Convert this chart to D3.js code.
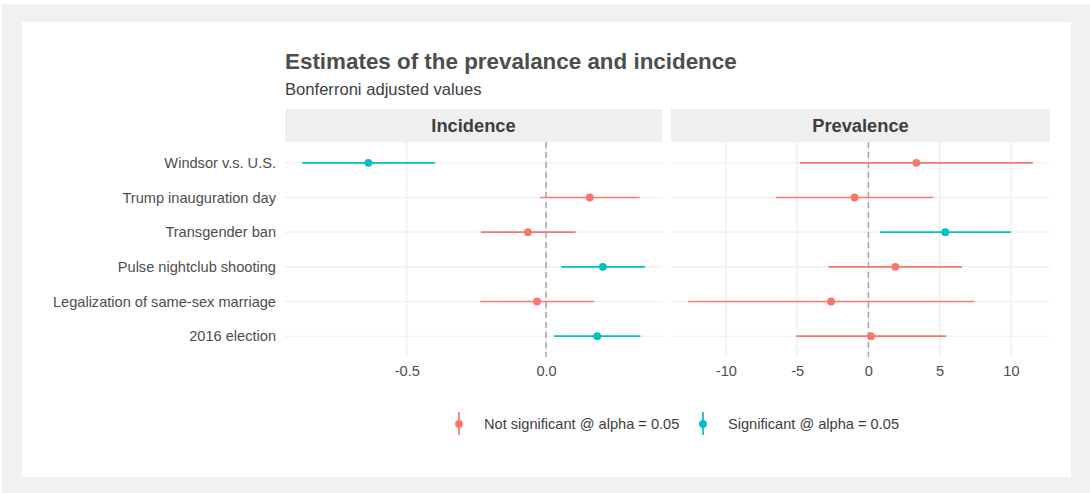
<!DOCTYPE html>
<html>
<head>
    <meta charset="utf-8">
    <title>Prevalence and incidence</title>
    <script src="https://cdn.jsdelivr.net/npm/d3@7"></script>
    <style>
        body { margin: 0; background: #ffffff; }
        text { font-family: "Liberation Sans", Arial, Helvetica, sans-serif; }
    </style>
</head>
<body>
    <svg width="1090" height="493" id="mainsvg"></svg>
    <script>
        // events, top to bottom
        const events = ['Windsor v.s. U.S.', 'Trump inauguration day', 'Transgender ban',
            'Pulse nightclub shooting', 'Legalization of same-sex marriage', '2016 election'];

        // incidence estimates (point, lower, upper)
        const incEst = [-0.638, 0.157, -0.065, 0.204, -0.032, 0.184];
        const incLow = [-0.876, -0.021, -0.234, 0.055, -0.236, 0.029];
        const incHigh = [-0.399, 0.336, 0.106, 0.355, 0.172, 0.339];
        const incSig = [true, false, false, true, false, true];

        // prevalence estimates (point, lower, upper)
        const prevEst = [3.37, -0.97, 5.39, 1.89, -2.62, 0.18];
        const prevLow = [-4.82, -6.49, 0.83, -2.80, -12.64, -5.06];
        const prevHigh = [11.53, 4.54, 9.99, 6.56, 7.41, 5.44];
        const prevSig = [false, false, true, false, false, false];

        const incTicks = [-0.5, 0.0];
        const prevTicks = [-10, -5, 0, 5, 10];

        const legendKeys = ['Not significant @ alpha = 0.05', 'Significant @ alpha = 0.05'];
        const colors = ['#F8766D', '#00BFC4'];

        const svg = d3.select('#mainsvg');
        // outer grey frame and white card
        svg.append('rect').attr('x', 2).attr('y', 4).attr('width', 1088).attr('height', 489).attr('fill', '#f1f1f1');
        svg.append('rect').attr('x', 22).attr('y', 22).attr('width', 1049).attr('height', 455).attr('fill', '#ffffff');

        svg.append('text').attr('x', 285).attr('y', 69)
            .attr('font-size', 22.4).attr('font-weight', 'bold').attr('fill', '#4d4d4d')
            .text('Estimates of the prevalance and incidence');
        svg.append('text').attr('x', 285).attr('y', 95)
            .attr('font-size', 16.6).attr('fill', '#3d3d3d')
            .text('Bonferroni adjusted values');

        const panelTop = 142, panelBottom = 357;
        const yScale = d3.scalePoint().domain(events).range([panelTop, panelBottom]).padding(0.6);
        const color = d3.scaleOrdinal().domain([false, true]).range(colors);
        const hyphen = f => d => f(d).replace('−', '-');

        const panels = [
            { name: 'Incidence', x0: 285, x1: 662, est: incEst, low: incLow, high: incHigh, sig: incSig, ticks: incTicks, fmt: hyphen(d3.format('.1f')) },
            { name: 'Prevalence', x0: 671, x1: 1050, est: prevEst, low: prevLow, high: prevHigh, sig: prevSig, ticks: prevTicks, fmt: hyphen(d3.format('d')) }
        ];

        panels.forEach(p => {
            const lo = d3.min(p.low), hi = d3.max(p.high);
            const pad = (hi - lo) * 0.05;
            const xScale = d3.scaleLinear().domain([lo - pad, hi + pad]).range([p.x0, p.x1]);
            const g = svg.append('g');

            // strip
            g.append('rect').attr('x', p.x0).attr('y', 109).attr('width', p.x1 - p.x0).attr('height', panelTop - 109)
                .attr('fill', '#efefef');
            g.append('text').attr('x', (p.x0 + p.x1) / 2).attr('y', 132)
                .attr('text-anchor', 'middle').attr('font-size', 18.3).attr('font-weight', 'bold').attr('fill', '#3d3d3d')
                .text(p.name);

            // grid
            g.selectAll('.vgrid').data(p.ticks).join('line')
                .attr('x1', d => xScale(d)).attr('x2', d => xScale(d))
                .attr('y1', panelTop).attr('y2', panelBottom)
                .attr('stroke', '#ebebeb').attr('stroke-width', 1.1);
            g.selectAll('.hgrid').data(events).join('line')
                .attr('x1', p.x0).attr('x2', p.x1)
                .attr('y1', d => yScale(d)).attr('y2', d => yScale(d))
                .attr('stroke', '#ebebeb').attr('stroke-width', 1.1);

            // zero reference
            g.append('line').attr('x1', xScale(0)).attr('x2', xScale(0))
                .attr('y1', panelTop).attr('y2', panelBottom)
                .attr('stroke', '#a8a8a8').attr('stroke-width', 1.5).attr('stroke-dasharray', '6,4');

            // x axis labels
            const xAxis = d3.axisBottom(xScale).tickValues(p.ticks).tickFormat(p.fmt).tickSize(0).tickPadding(9);
            const xg = g.append('g').attr('transform', `translate(0, ${panelBottom})`).call(xAxis);
            xg.select('.domain').remove();
            xg.selectAll('text').attr('font-size', 14.6).attr('fill', '#4d4d4d')
                .attr('font-family', '"Liberation Sans", Arial, sans-serif');

            // intervals and points
            const rows = events.map((e, i) => ({ e, est: p.est[i], low: p.low[i], high: p.high[i], sig: p.sig[i] }));
            g.selectAll('.bar').data(rows).join('line')
                .attr('x1', d => xScale(d.low)).attr('x2', d => xScale(d.high))
                .attr('y1', d => yScale(d.e)).attr('y2', d => yScale(d.e))
                .attr('stroke', d => color(d.sig)).attr('stroke-width', 1.7);
            g.selectAll('.pt').data(rows).join('circle')
                .attr('cx', d => xScale(d.est)).attr('cy', d => yScale(d.e)).attr('r', 3.9)
                .attr('fill', d => color(d.sig));
        });

        // y axis labels
        const yAxis = d3.axisLeft(yScale).tickSize(0).tickPadding(9);
        const yg = svg.append('g').attr('transform', 'translate(285, 0)').call(yAxis);
        yg.select('.domain').remove();
        yg.selectAll('text').attr('font-size', 14.6).attr('fill', '#4d4d4d')
            .attr('font-family', '"Liberation Sans", Arial, sans-serif');

        // legend
        const legendX = [459, 703];
        const lg = svg.append('g');
        legendKeys.forEach((k, i) => {
            const c = color(i === 1);
            lg.append('line').attr('x1', legendX[i]).attr('x2', legendX[i]).attr('y1', 412).attr('y2', 435)
                .attr('stroke', c).attr('stroke-width', 1.7);
            lg.append('circle').attr('cx', legendX[i]).attr('cy', 424).attr('r', 3.9).attr('fill', c);
            lg.append('text').attr('x', legendX[i] + 25).attr('y', 429)
                .attr('font-size', 14.6).attr('fill', '#3d3d3d').text(k);
        });
    </script>
</body>
</html>
